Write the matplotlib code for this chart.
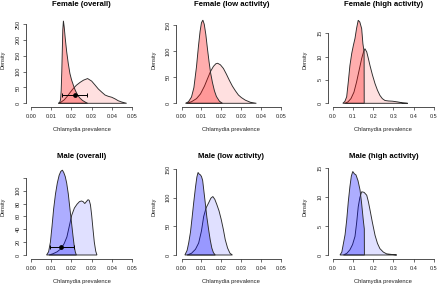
import numpy as np
import matplotlib
matplotlib.use("Agg")
import matplotlib.pyplot as plt

plt.rcParams['font.family'] = ['Liberation Sans', 'DejaVu Sans']

W, H = 440, 286

titles = ['Female (overall)', 'Female (low activity)', 'Female (high activity)',
          'Male (overall)', 'Male (low activity)', 'Male (high activity)']

# darker (front) density curve of each panel
dark_x = [
    [0.0138, 0.0143, 0.0147, 0.0150, 0.0153, 0.0156, 0.0158, 0.0161, 0.0165, 0.0170, 0.0177,
     0.0185, 0.0193, 0.0201, 0.0210, 0.0218, 0.0226, 0.0235, 0.0243, 0.0255, 0.0268, 0.0280],
    [0.0020, 0.0035, 0.0050, 0.0062, 0.0075, 0.0085, 0.0093, 0.0100, 0.0107, 0.0114, 0.0122,
     0.0130, 0.0138, 0.0146, 0.0155, 0.0165, 0.0175, 0.0190, 0.0205],
    [0.050, 0.060, 0.069, 0.077, 0.085, 0.094, 0.102, 0.110, 0.118, 0.126, 0.134, 0.143,
     0.149, 0.155, 0.1555],
    [0.0078, 0.0088, 0.0097, 0.0105, 0.0113, 0.0122, 0.0131, 0.0140, 0.0148, 0.0156, 0.0163,
     0.0170, 0.0177, 0.0185, 0.0193, 0.0201, 0.0208, 0.0215, 0.0220, 0.0225],
    [0.0017, 0.0028, 0.0036, 0.0045, 0.0053, 0.0061, 0.0070, 0.0077, 0.0083, 0.0089, 0.0094,
     0.0100, 0.0106, 0.0112, 0.0119, 0.0127, 0.0136, 0.0144, 0.0152, 0.0160, 0.0169],
    [0.036, 0.045, 0.053, 0.061, 0.069, 0.077, 0.085, 0.092, 0.099, 0.107, 0.115, 0.125,
     0.135, 0.143, 0.151, 0.156, 0.1565],
]
dark_y = [
    [0, 3, 12, 40, 100, 180, 232, 260, 240, 205, 163, 125, 94, 74, 57, 43, 32, 22, 16, 9, 4, 0],
    [0, 3, 12, 30, 70, 110, 138, 155, 160, 152, 132, 105, 80, 58, 40, 24, 13, 4, 0],
    [0, 0.4, 1.4, 4.6, 8.1, 10.7, 12.4, 13.9, 16.1, 17.8, 17.4, 16.0, 12.8, 11.0, 0],
    [0, 5, 20, 45, 72, 95, 112, 124, 130, 132, 128, 122, 112, 95, 72, 50, 30, 12, 4, 0],
    [0, 8, 21, 40, 65, 91, 118, 136, 144, 141, 140, 137, 130, 112, 91, 66, 44, 26, 12, 4, 0],
    [0, 0.5, 2.0, 3.5, 6.0, 9.2, 11.8, 13.6, 14.4, 14.0, 13.8, 12.8, 11.2, 8.8, 6.0, 4.5, 0],
]

# lighter (back) density curve of each panel
light_x = [
    [0.0135, 0.0150, 0.0165, 0.0180, 0.0195, 0.0210, 0.0225, 0.0243, 0.0260, 0.0280, 0.0300,
     0.0316, 0.0333, 0.0350, 0.0366, 0.0382, 0.0399, 0.0415, 0.0431, 0.0448, 0.0472],
    [0.0025, 0.0050, 0.0075, 0.0095, 0.0115, 0.0130, 0.0145, 0.0160, 0.0172, 0.0181, 0.0195,
     0.0210, 0.0225, 0.0240, 0.0255, 0.0270, 0.0285, 0.0300, 0.0320, 0.0345, 0.0375],
    [0.060, 0.075, 0.090, 0.105, 0.118, 0.130, 0.143, 0.152, 0.159, 0.168, 0.176, 0.184,
     0.196, 0.209, 0.221, 0.233, 0.245, 0.258, 0.275, 0.295, 0.320, 0.345, 0.370],
    [0.0090, 0.0110, 0.0130, 0.0150, 0.0165, 0.0178, 0.0190, 0.0202, 0.0215, 0.0228, 0.0240,
     0.0250, 0.0258, 0.0266, 0.0274, 0.0282, 0.0288, 0.0294, 0.0300, 0.0306, 0.0313, 0.0320, 0.0326],
    [0.0028, 0.0050, 0.0070, 0.0086, 0.0100, 0.0111, 0.0123, 0.0136, 0.0147, 0.0157, 0.0167,
     0.0177, 0.0188, 0.0199, 0.0210, 0.0219, 0.0231, 0.0243, 0.0255],
    [0.053, 0.070, 0.085, 0.098, 0.110, 0.118, 0.126, 0.134, 0.143, 0.155, 0.168, 0.176,
     0.184, 0.196, 0.209, 0.221, 0.233, 0.250, 0.266, 0.290, 0.316],
]
light_y = [
    [0, 4, 11, 22, 35, 47, 57, 66, 73, 78, 70, 58, 45, 35, 26, 22, 19, 14, 8, 4, 0],
    [0, 3, 9, 18, 33, 47, 61, 71, 76, 77, 74, 67, 56, 44, 33, 24, 16, 11, 6, 2, 0],
    [0, 0.3, 1.0, 2.4, 4.6, 7.0, 9.6, 11.0, 11.7, 11.0, 9.6, 8.1, 6.1, 4.2, 2.8, 1.7, 1.0,
     0.6, 0.5, 0.45, 0.3, 0.1, 0],
    [0, 2, 5, 10, 18, 28, 45, 62, 73, 79, 83, 84, 83, 80, 83, 86, 85, 78, 62, 42, 20, 6, 0],
    [0, 3, 10, 21, 42, 67, 82, 91, 99, 102, 97, 88, 77, 62, 44, 27, 12, 3, 0],
    [0, 0.3, 0.9, 1.8, 3.2, 5.5, 8.3, 9.9, 10.9, 10.8, 10.3, 9.2, 7.8, 5.6, 3.4, 2.0, 1.1,
     0.5, 0.2, 0.1, 0],
]

# observed estimate with interval (overall panels only)
obs_panel = [0, 3]
obs_est = [0.0218, 0.0149]
obs_lo = [0.0153, 0.0095]
obs_hi = [0.0279, 0.0213]
obs_y = [25, 12.6]

x_ticks = [[0.00, 0.01, 0.02, 0.03, 0.04, 0.05]] * 2 + [[0.0, 0.1, 0.2, 0.3, 0.4, 0.5]]
x_ticks = x_ticks + x_ticks
x_labels = [['0.00', '0.01', '0.02', '0.03', '0.04', '0.05']] * 2 + [['0.0', '0.1', '0.2', '0.3', '0.4', '0.5']]
x_labels = x_labels + x_labels
y_ticks = [[0, 50, 100, 150, 200, 250], [0, 50, 100, 150], [0, 5, 10, 15],
           [0, 20, 40, 60, 80, 100, 120], [0, 50, 100, 150], [0, 5, 10, 15]]
y_labels = [[str(v) for v in t] for t in y_ticks]
y_labels[3][-1] = ''

# layout in pixels: y-axis x, x of first tick, x of last tick, x-axis y, y of 0, y of ref tick, ref tick value
layout = [
    (25.7, 30.7, 132.3, 107.0, 103.3, 24.0, 250),
    (176.0, 181.5, 281.3, 107.0, 103.3, 25.3, 150),
    (327.7, 332.7, 434.0, 107.0, 103.3, 33.3, 15),
    (25.7, 30.7, 132.3, 259.0, 255.0, 190.7, 100),
    (176.0, 181.5, 281.3, 259.0, 255.0, 169.0, 150),
    (327.7, 332.7, 434.0, 259.0, 255.0, 168.0, 15),
]
title_y = [4.5, 156.0]
xlab_y = [130.0, 281.0]
ylab_y = [60.0, 207.0]
ylab_x = [3.5, 153.5, 305.0]

red = (1, 0, 0)
blue = (0, 0, 1)

fig = plt.figure(figsize=(W / 100, H / 100), dpi=100)

for i in range(6):
    yax, x0, x1, xaxis, y0, y1, yref = layout[i]
    row, col = i // 3, i % 3
    xmax = x_ticks[i][-1]
    sx = (x1 - x0) / xmax
    left = yax
    right = x1 + (x0 - yax)
    top = xaxis - 95
    sy = (y0 - y1) / yref
    ax = fig.add_axes([left / W, 1 - xaxis / H, (right - left) / W, (xaxis - top) / H])
    ax.set_xlim((left - x0) / sx, (right - x0) / sx)
    ax.set_ylim((y0 - xaxis) / sy, (y0 - top) / sy)

    c = red if row == 0 else blue
    ax.fill(light_x[i], light_y[i], facecolor=c + (0.12,), edgecolor='#2a2a2a', lw=0.65)
    ax.fill(dark_x[i], dark_y[i], facecolor=c + (0.32,), edgecolor='#2a2a2a', lw=0.65)

    if i in obs_panel:
        k = obs_panel.index(i)
        ax.errorbar([obs_est[k]], [obs_y[k]],
                    xerr=[[obs_est[k] - obs_lo[k]], [obs_hi[k] - obs_est[k]]],
                    fmt='o', color='black', ms=2.4, elinewidth=0.7, capsize=1.4, capthick=0.7)

    for s in ['top', 'right']:
        ax.spines[s].set_visible(False)
    ax.spines['left'].set_bounds(y_ticks[i][0], y_ticks[i][-1])
    ax.spines['bottom'].set_bounds(x_ticks[i][0], x_ticks[i][-1])
    for s in ['left', 'bottom']:
        ax.spines[s].set_linewidth(0.6)
        ax.spines[s].set_color('#333333')
    ax.set_xticks(x_ticks[i])
    ax.set_xticklabels(x_labels[i])
    ax.set_yticks(y_ticks[i])
    ax.set_yticklabels(y_labels[i])
    ax.tick_params(axis='both', direction='out', length=2.2, width=0.5, color='#333333',
                   labelsize=4.0, labelcolor='#222222')
    ax.tick_params(axis='x', pad=2.5)
    ax.tick_params(axis='y', pad=1.4, labelrotation=90)
    for lab in ax.get_yticklabels():
        lab.set_va('center')
    ax.patch.set_alpha(0)

    cx = (left + right) / 2
    fig.text(cx / W, 1 - title_y[row] / H, titles[i], ha='center', va='center',
             fontsize=5.6, fontweight='bold')
    fig.text(cx / W, 1 - xlab_y[row] / H, 'Chlamydia prevalence', ha='center', va='center',
             fontsize=4.2, color='#222222')
    fig.text(ylab_x[col] / W, 1 - ylab_y[row] / H, 'Density', ha='center', va='center',
             rotation=90, fontsize=4.0, color='#222222')

fig.savefig('out.png', dpi=100)
